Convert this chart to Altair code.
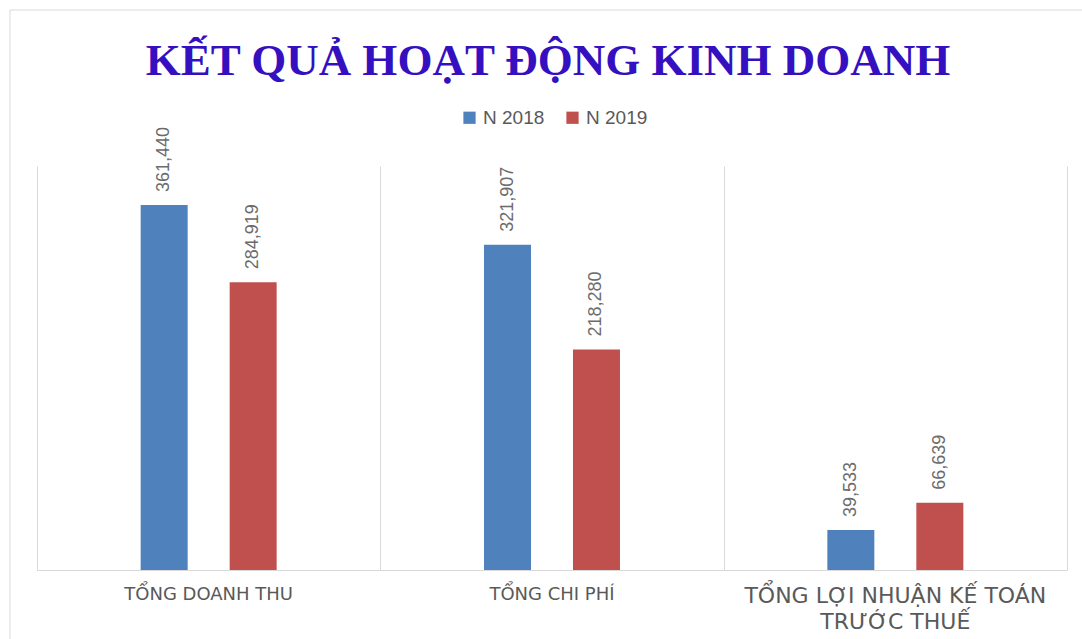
import altair as alt
import pandas as pd

categories = ["TỔNG DOANH THU", "TỔNG CHI PHÍ", "TỔNG LỢI NHUẬN KẾ TOÁN TRƯỚC THUẾ"]
series = ["N 2018", "N 2019"]
values_2018 = [361440, 321907, 39533]
values_2019 = [284919, 218280, 66639]
colors = ["#4F81BD", "#C0504D"]
title_text = "KẾT QUẢ HOẠT ĐỘNG KINH DOANH"

rows = []
for c, a, b in zip(categories, values_2018, values_2019):
    rows.append({"cat": c, "year": series[0], "amount": a})
    rows.append({"cat": c, "year": series[1], "amount": b})
df = pd.DataFrame(rows)
cat_df = pd.DataFrame({"cat": categories})

W, H = 1030, 404

x_axis = alt.Axis(
    title=None,
    labels=False,
    ticks=False,
    domainColor="#D9D9D9",
    grid=True,
    gridColor="#D9D9D9",
    tickBand="extent",
)
x_scale = alt.Scale(paddingInner=0, paddingOuter=0)
x_enc = alt.X("cat:N", sort=categories, scale=x_scale, axis=x_axis)

xoff = alt.XOffset(
    "year:N",
    scale=alt.Scale(domain=["_l"] + series + ["_r"], paddingInner=0.472, paddingOuter=0.165),
)
y_enc = alt.Y("amount:Q", scale=alt.Scale(domain=[0, 400000]), axis=None)

base = alt.Chart(df).encode(x=x_enc, xOffset=xoff, y=y_enc)

bars = base.mark_bar().encode(
    color=alt.Color(
        "year:N",
        scale=alt.Scale(domain=series, range=colors),
        legend=alt.Legend(
            title=None,
            orient="none",
            legendX=423,
            legendY=-58,
            direction="horizontal",
            symbolType="square",
            symbolSize=150,
            symbolStrokeWidth=0,
            labelFontSize=19,
            labelFont="Liberation Sans",
            labelColor="#595959",
            columnPadding=18,
            labelOffset=4,
        ),
    )
)

labels = base.mark_text(
    angle=270, align="left", baseline="middle", dx=13, fontSize=18,
    font="Liberation Sans", color="#6b6b6b"
).encode(text=alt.Text("amount:Q", format=","))

cat_labels = alt.Chart(cat_df).transform_calculate(
    lbl="length(datum.cat) > 20 ? ['TỔNG LỢI NHUẬN KẾ TOÁN', 'TRƯỚC THUẾ'] : datum.cat"
).mark_text(
    baseline="top", align="center", font="DejaVu Sans", color="#595959", lineHeight=26
).encode(
    x=alt.X("cat:N", sort=categories, scale=x_scale, axis=x_axis),
    y=alt.value(H + 16),
    text="lbl:N",
    size=alt.condition("length(datum.cat) > 20", alt.value(22), alt.value(18)),
)

one = pd.DataFrame({"k": [0]})
border_top = alt.Chart(one).mark_rule(color="#D9D9D9", strokeWidth=1).encode(
    x=alt.value(-27), x2=alt.value(1045), y=alt.value(-156)
)
border_left = alt.Chart(one).mark_rule(color="#D9D9D9", strokeWidth=1).encode(
    x=alt.value(-27), y=alt.value(-156), y2=alt.value(473)
)

chart = alt.layer(border_top, border_left, bars, labels, cat_labels).properties(
    width=W,
    height=H,
    title=alt.TitleParams(
        title_text,
        font="Liberation Serif",
        fontSize=45,
        fontWeight="bold",
        color="#3510C0",
        anchor="middle",
        offset=-74,
        dx=-4,
    ),
    padding={"left": 37, "top": 166, "right": 15, "bottom": 69},
    autosize=alt.AutoSizeParams(type="none"),
).configure(background="white").configure_view(stroke=None)

chart.save("out.html", embed_options={"renderer": "svg", "actions": False})
